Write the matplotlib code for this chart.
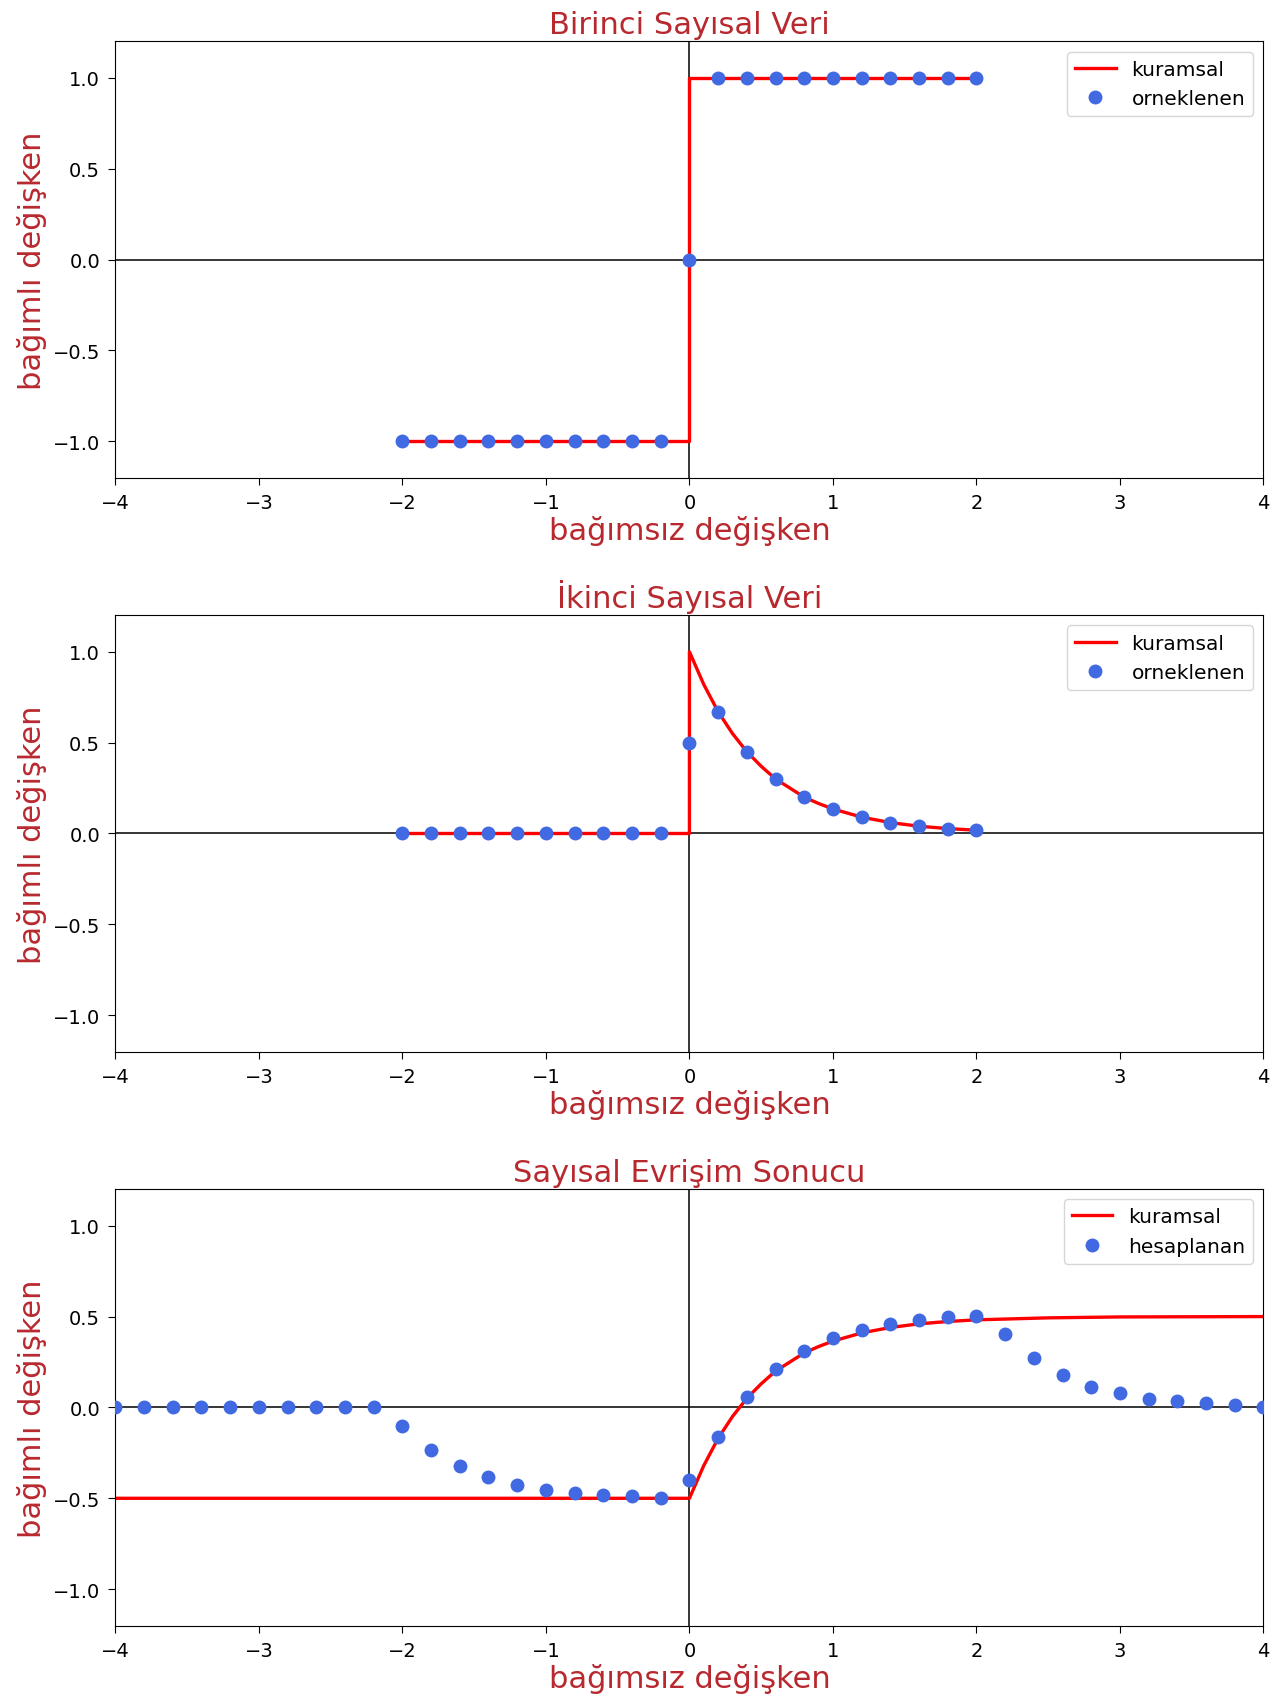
import matplotlib

matplotlib.use("Agg")
import matplotlib.pyplot as plt

# sampled grid for the two input signals
x_sample = [-2.0, -1.8, -1.6, -1.4, -1.2, -1.0, -0.8, -0.6, -0.4, -0.2, 0.0,
            0.2, 0.4, 0.6, 0.8, 1.0, 1.2, 1.4, 1.6, 1.8, 2.0]
y1_sample = [-1, -1, -1, -1, -1, -1, -1, -1, -1, -1, 0,
             1, 1, 1, 1, 1, 1, 1, 1, 1, 1]
y2_sample = [0, 0, 0, 0, 0, 0, 0, 0, 0, 0, 0.5,
             0.67, 0.45, 0.30, 0.20, 0.135, 0.09, 0.06, 0.04, 0.027, 0.018]

# theoretical curves
x1_theory = [-2.0, 0.0, 0.0, 2.0]
y1_theory = [-1.0, -1.0, 1.0, 1.0]
x2_theory = [-2.0, 0.0, 0.0, 0.1, 0.2, 0.3, 0.4, 0.5, 0.6, 0.7, 0.8, 0.9, 1.0,
             1.2, 1.4, 1.6, 1.8, 2.0]
y2_theory = [0.0, 0.0, 1.0, 0.82, 0.67, 0.55, 0.45, 0.37, 0.30, 0.25, 0.20, 0.165,
             0.135, 0.09, 0.06, 0.04, 0.027, 0.018]

# convolution result
x_conv = [-4.0, -3.8, -3.6, -3.4, -3.2, -3.0, -2.8, -2.6, -2.4, -2.2, -2.0,
          -1.8, -1.6, -1.4, -1.2, -1.0, -0.8, -0.6, -0.4, -0.2, 0.0,
          0.2, 0.4, 0.6, 0.8, 1.0, 1.2, 1.4, 1.6, 1.8, 2.0,
          2.2, 2.4, 2.6, 2.8, 3.0, 3.2, 3.4, 3.6, 3.8, 4.0]
y_conv = [0, 0, 0, 0, 0, 0, 0, 0, 0, 0, -0.10,
          -0.234, -0.324, -0.384, -0.425, -0.452, -0.470, -0.482, -0.490, -0.496, -0.40,
          -0.165, 0.058, 0.214, 0.312, 0.381, 0.428, 0.461, 0.483, 0.496, 0.505,
          0.405, 0.271, 0.178, 0.112, 0.080, 0.046, 0.037, 0.026, 0.013, 0.0]
x3_theory = [-4.0, 0.0, 0.1, 0.2, 0.3, 0.4, 0.5, 0.6, 0.7, 0.8, 0.9, 1.0,
             1.2, 1.4, 1.6, 1.8, 2.0, 2.5, 3.0, 4.0]
y3_theory = [-0.5, -0.5, -0.32, -0.17, -0.05, 0.05, 0.13, 0.20, 0.25, 0.30, 0.335, 0.365,
             0.41, 0.44, 0.46, 0.473, 0.482, 0.493, 0.498, 0.5]

panels = [
    ("Birinci Sayısal Veri", x1_theory, y1_theory, x_sample, y1_sample, "orneklenen"),
    ("İkinci Sayısal Veri", x2_theory, y2_theory, x_sample, y2_sample, "orneklenen"),
    ("Sayısal Evrişim Sonucu", x3_theory, y3_theory, x_conv, y_conv, "hesaplanan"),
]

label_color = "#b8292f"

fig, axes = plt.subplots(3, 1, figsize=(12.83, 17.06), dpi=100)
fig.subplots_adjust(left=0.0899, right=0.9848, top=0.9751, bottom=0.0466, hspace=0.316)

for ax, (title, xt, yt, xs, ys, pts_label) in zip(axes, panels):
    ax.axhline(0, color="black", lw=1.1, zorder=1)
    ax.axvline(0, color="black", lw=1.1, zorder=1)
    ax.plot(xt, yt, color="red", lw=2.4, label="kuramsal", zorder=2)
    ax.plot(xs, ys, "o", color="royalblue", ms=9, label=pts_label, zorder=3)
    ax.set_xlim(-4, 4)
    ax.set_ylim(-1.2, 1.2)
    ax.set_yticks([-1.0, -0.5, 0.0, 0.5, 1.0])
    ax.set_title(title, color=label_color, fontsize=22)
    ax.set_xlabel("bağımsız değişken", color=label_color, fontsize=22, labelpad=2)
    ax.set_ylabel("bağımlı değişken", color=label_color, fontsize=22)
    ax.tick_params(labelsize=14, length=5, pad=6)
    ax.legend(loc="upper right", fontsize=14.5)

fig.savefig("out.png", dpi=100)
plt.close(fig)
